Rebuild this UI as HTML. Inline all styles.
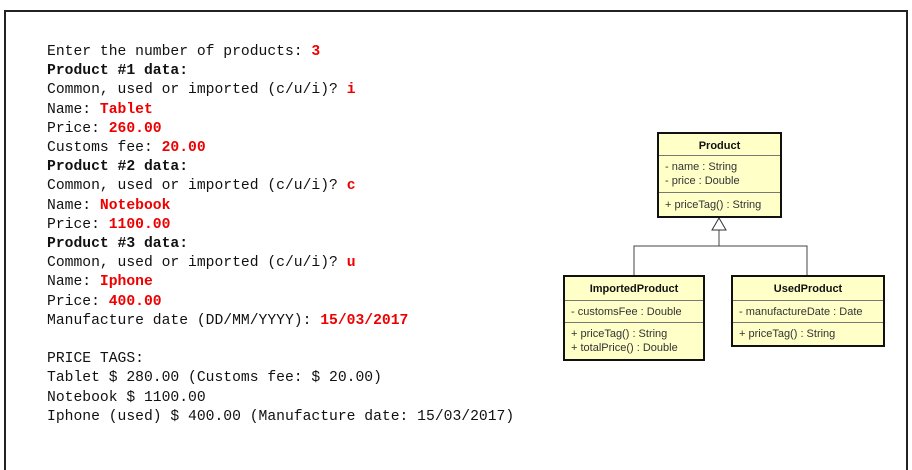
<!DOCTYPE html>
<html><head><style>
body{margin:0;width:912px;height:458px;background:#fff;overflow:hidden;position:relative}
.frame{position:absolute;left:4px;top:10px;width:904px;height:460px;border:2px solid #222;border-bottom:none;box-sizing:border-box}
pre{position:absolute;left:47px;top:43px;margin:0;font-family:"Liberation Mono",monospace;font-size:14.7px;line-height:19.2px;color:#111}
.r{color:#e00;font-weight:bold}
b{font-weight:bold}
.c{position:absolute;background:#ffffc8;border:2px solid #111;box-sizing:border-box;font-family:"Liberation Sans",sans-serif;font-size:11px;color:#333}
.h{font-weight:bold;text-align:center;color:#111;border-bottom:1px solid #777;box-sizing:border-box}
.s{padding:5px 0 0 6px;line-height:14px;border-bottom:1px solid #777;box-sizing:border-box}
.s:last-child{border-bottom:none}
</style></head><body>
<div class="frame"></div>
<pre>Enter the number of products: <span class="r">3</span>
<b>Product #1 data:</b>
Common, used or imported (c/u/i)? <span class="r">i</span>
Name: <span class="r">Tablet</span>
Price: <span class="r">260.00</span>
Customs fee: <span class="r">20.00</span>
<b>Product #2 data:</b>
Common, used or imported (c/u/i)? <span class="r">c</span>
Name: <span class="r">Notebook</span>
Price: <span class="r">1100.00</span>
<b>Product #3 data:</b>
Common, used or imported (c/u/i)? <span class="r">u</span>
Name: <span class="r">Iphone</span>
Price: <span class="r">400.00</span>
Manufacture date (DD/MM/YYYY): <span class="r">15/03/2017</span>

PRICE TAGS:
Tablet $ 280.00 (Customs fee: $ 20.00)
Notebook $ 1100.00
Iphone (used) $ 400.00 (Manufacture date: 15/03/2017)</pre>
<svg style="position:absolute;left:0;top:0" width="912" height="458">
<polyline points="634,275 634,246 807,246 807,275" fill="none" stroke="#444" stroke-width="1"/>
<line x1="719" y1="230" x2="719" y2="246" stroke="#444"/>
<polygon points="719,218 712,230 726,230" fill="#fff" stroke="#333"/>
</svg>
<div class="c" style="left:657px;top:132px;width:125px;height:86px">
<div class="h" style="height:22px;line-height:24px">Product</div>
<div class="s" style="height:37px;padding-top:4px">- name : String<br>- price : Double</div>
<div class="s" style="height:23px;padding-top:5px">+ priceTag() : String</div>
</div>
<div class="c" style="left:563px;top:275px;width:142px;height:86px">
<div class="h" style="height:24px;line-height:25px">ImportedProduct</div>
<div class="s" style="height:22px;padding-top:4px">- customsFee : Double</div>
<div class="s" style="height:36px;padding-top:4px">+ priceTag() : String<br>+ totalPrice() : Double</div>
</div>
<div class="c" style="left:731px;top:275px;width:154px;height:72px">
<div class="h" style="height:24px;line-height:25px">UsedProduct</div>
<div class="s" style="height:22px;padding-top:4px">- manufactureDate : Date</div>
<div class="s" style="height:22px;padding-top:4px">+ priceTag() : String</div>
</div>
</body></html>
